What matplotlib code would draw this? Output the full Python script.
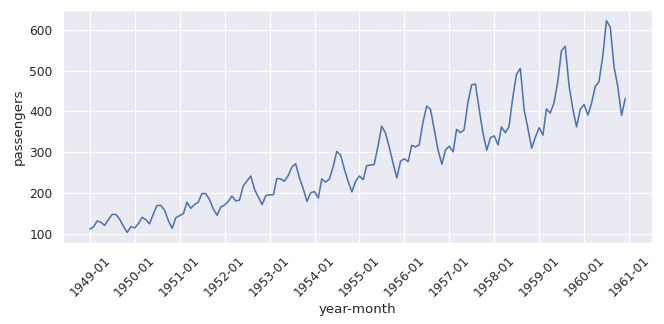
import numpy as np
import pandas as pd
import seaborn as sns
import matplotlib
matplotlib.use("Agg")
import matplotlib.pyplot as plt
import matplotlib.dates as mdates

# monthly airline passengers, 1949-1960
y1949 = [112, 118, 132, 129, 121, 135, 148, 148, 136, 119, 104, 118]
y1950 = [115, 126, 141, 135, 125, 149, 170, 170, 158, 133, 114, 140]
y1951 = [145, 150, 178, 163, 172, 178, 199, 199, 184, 162, 146, 166]
y1952 = [171, 180, 193, 181, 183, 218, 230, 242, 209, 191, 172, 194]
y1953 = [196, 196, 236, 235, 229, 243, 264, 272, 237, 211, 180, 201]
y1954 = [204, 188, 235, 227, 234, 264, 302, 293, 259, 229, 203, 229]
y1955 = [242, 233, 267, 269, 270, 315, 364, 347, 312, 274, 237, 278]
y1956 = [284, 277, 317, 313, 318, 374, 413, 405, 355, 306, 271, 306]
y1957 = [315, 301, 356, 348, 355, 422, 465, 467, 404, 347, 305, 336]
y1958 = [340, 318, 362, 348, 363, 435, 491, 505, 404, 359, 310, 337]
y1959 = [360, 342, 406, 396, 420, 472, 548, 559, 463, 407, 362, 405]
y1960 = [417, 391, 419, 461, 472, 535, 622, 606, 508, 461, 390, 432]

passengers = (y1949 + y1950 + y1951 + y1952 + y1953 + y1954
              + y1955 + y1956 + y1957 + y1958 + y1959 + y1960)
months = pd.date_range("1949-01-01", periods=len(passengers), freq="MS")

sns.set_theme(style="darkgrid")

fig, ax = plt.subplots(figsize=(8.3, 4.05), dpi=80)
ax.plot(months, passengers, color="#4c72b0", lw=1.4)

ax.xaxis.set_major_locator(mdates.YearLocator())
ax.xaxis.set_major_formatter(mdates.DateFormatter("%Y-%m"))
plt.setp(ax.get_xticklabels(), rotation=45)
ax.set_xlabel("year-month")
ax.set_ylabel("passengers")

fig.subplots_adjust(left=0.095, right=0.982, top=0.969, bottom=0.25)
fig.savefig("out.png")
